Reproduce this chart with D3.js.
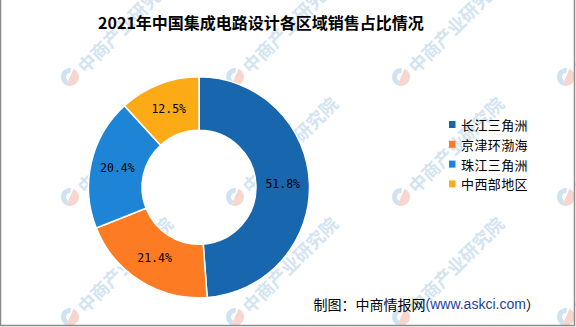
<!DOCTYPE html>
<html><head><meta charset="utf-8">
<script src="https://cdn.jsdelivr.net/npm/d3@7"></script>
<style>
html,body{margin:0;padding:0;background:#fff;}
svg{display:block;}
</style></head>
<body>
<svg id="chart" width="576" height="327"></svg>
<script>
const title = "2021年中国集成电路设计各区域销售占比情况";
const categories = ["长江三角洲", "京津环渤海", "珠江三角洲", "中西部地区"];
const values = [51.8, 21.4, 20.4, 12.5];
const labels = ["51.8%", "21.4%", "20.4%", "12.5%"];
const colors = ["#1866ad", "#fd7b22", "#1d84d6", "#fdaa17"];
const sourceText = "制图：中商情报网";
const sourceUrl = "(www.askci.com";
const watermark = "中商产业研究院";

const W = 576, H = 327;
const svg = d3.select("#chart");
svg.append("rect").attr("width", W).attr("height", H).attr("fill", "#fff");

// watermarks
const wm = svg.append("g").attr("class", "watermark");
const wmX = [70, 235, 401, 566];
const wmY = [77, 197, 317];
wmY.forEach(y => wmX.forEach(x => {
  const g = wm.append("g").attr("transform", `translate(${x},${y})`);
  g.append("path").attr("d", d3.arc()({innerRadius: 0, outerRadius: 9, startAngle: 0.4, endAngle: Math.PI + 0.4}))
    .attr("fill", "#f6d6cf");
  g.append("path").attr("d", d3.arc()({innerRadius: 4, outerRadius: 9, startAngle: Math.PI + 0.4, endAngle: 2 * Math.PI + 0.1}))
    .attr("fill", "#cfe2f1");
  g.append("text").attr("transform", "translate(12,-6) rotate(-45)")
    .attr("font-family", "Noto Sans CJK SC").attr("font-weight", "bold").attr("font-size", 18)
    .attr("fill", "#d3e4f2").attr("dominant-baseline", "middle")
    .text(watermark);
}));

// border
svg.append("path").attr("d", `M0.5,0 V${H - 1.5} H${W - 1.5} V0`)
  .attr("fill", "none").attr("stroke", "#8c8c8c").attr("stroke-width", 1.5);

// title
svg.append("text").attr("x", 261).attr("y", 22)
  .attr("text-anchor", "middle").attr("dominant-baseline", "central")
  .attr("font-family", "Noto Sans CJK SC").attr("font-weight", "bold").attr("font-size", 16)
  .attr("fill", "#000").text(title);

// donut
const cx = 199, cy = 187.3, rOuter = 110.5, rInner = 57;
const pie = d3.pie().sort(null).value(d => d)(values);
const arc = d3.arc().innerRadius(rInner).outerRadius(rOuter);
const g = svg.append("g").attr("transform", `translate(${cx},${cy})`);
g.selectAll("path.slice").data(pie).join("path").attr("class", "slice")
  .attr("d", arc).attr("fill", (d, i) => colors[i])
  .attr("stroke", "#fff").attr("stroke-width", 1.5);
g.selectAll("text.lbl").data(pie).join("text").attr("class", "lbl")
  .attr("transform", d => `translate(${arc.centroid(d)})`)
  .attr("text-anchor", "middle").attr("dominant-baseline", "central")
  .attr("font-family", "DejaVu Sans Mono").attr("font-size", 11.5).attr("fill", "#000")
  .text((d, i) => labels[i]);

// legend
const leg = svg.append("g").attr("transform", "translate(449,124.5)");
const items = leg.selectAll("g").data(categories).join("g")
  .attr("transform", (d, i) => `translate(0,${i * 19.8})`);
items.append("rect").attr("x", 0).attr("y", -3.5).attr("width", 6.5).attr("height", 7)
  .attr("fill", (d, i) => colors[i]);
items.append("text").attr("x", 12).attr("y", 0).attr("dominant-baseline", "central")
  .attr("font-family", "Noto Sans CJK SC").attr("font-size", 13).attr("letter-spacing", 0.4)
  .attr("fill", "#000").text(d => d);

// source
const src = svg.append("text").attr("x", 313.5).attr("y", 304).attr("dominant-baseline", "central")
  .attr("font-size", 14);
src.append("tspan").attr("font-family", "Noto Sans CJK SC").attr("fill", "#000").text(sourceText);
src.append("tspan").attr("font-family", "Liberation Sans").attr("fill", "#1f3f99").text(sourceUrl);
src.append("tspan").attr("font-family", "Noto Sans CJK SC").attr("fill", "#000").text("）");
</script>
</body></html>
